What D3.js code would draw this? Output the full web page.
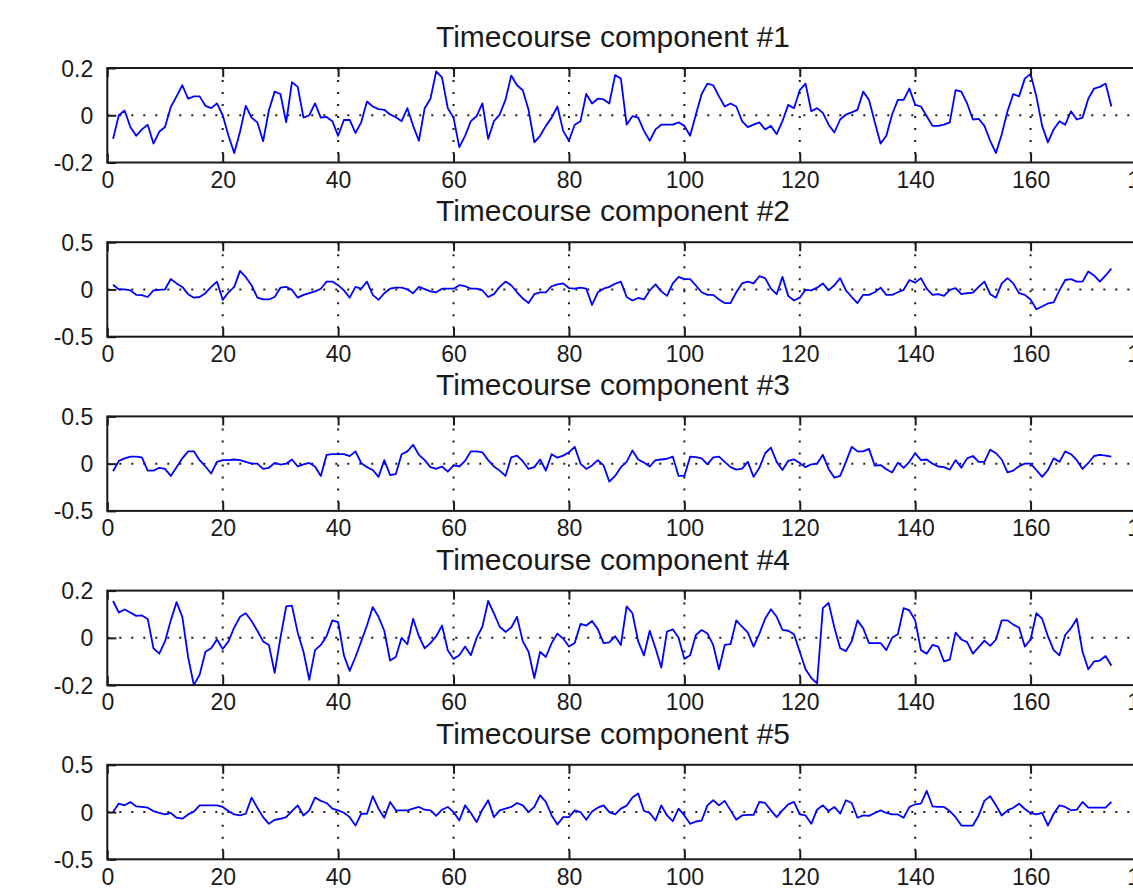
<!DOCTYPE html>
<html>
<head>
<meta charset="utf-8">
<script src="https://cdn.jsdelivr.net/npm/d3@7"></script>
<style>
  body { margin: 0; background: #fff; }
  svg { display: block; }
</style>
</head>
<body>
<svg id="chart" width="1133" height="890"></svg>
<script>
// timecourses, one value per sample (sample 1..174)
const comp1 = [
  -0.10, 0.0, 0.02, -0.05, -0.087, -0.06, -0.04, -0.12, -0.07, -0.05,
  0.035, 0.08, 0.127, 0.07, 0.08, 0.08, 0.04, 0.03, 0.05, 0.0,
  -0.087, -0.16, -0.07, 0.04, -0.01, -0.03, -0.11, 0.02, 0.10, 0.09,
  -0.03, 0.14, 0.12, -0.01, 0.0, 0.05, -0.01, -0.007, -0.025, -0.087,
  -0.02, -0.02, -0.075, -0.03, 0.058, 0.037, 0.026, 0.023, 0.003, -0.008,
  -0.025, 0.03, -0.045, -0.108, 0.03, 0.07, 0.186, 0.16, 0.03, -0.01,
  -0.135, -0.087, -0.025, -0.004, 0.05, -0.10, -0.025, 0.003, 0.065, 0.168,
  0.127, 0.106, 0.023, -0.115, -0.087, -0.045, -0.01, 0.037, -0.066, -0.108,
  -0.04, -0.025, 0.09, 0.05, 0.07, 0.067, 0.05, 0.17, 0.155, -0.04,
  -0.004, -0.01, -0.066, -0.108, -0.06, -0.04, -0.04, -0.04, -0.03, -0.045,
  -0.087, 0.003, 0.09, 0.134, 0.127, 0.08, 0.037, 0.05, 0.037, -0.025,
  -0.05, -0.04, -0.03, -0.06, -0.045, -0.08, -0.025, 0.044, 0.03, 0.106,
  0.134, 0.017, 0.03, 0.01, -0.04, -0.073, -0.018, 0.003, 0.012, 0.023,
  0.1, 0.065, -0.03, -0.12, -0.087, 0.003, 0.065, 0.065, 0.113, 0.044,
  0.037, -0.004, -0.045, -0.045, -0.04, -0.03, 0.106, 0.1, 0.05, -0.018,
  -0.015, -0.045, -0.108, -0.16, -0.08, 0.017, 0.09, 0.08, 0.155, 0.175,
  0.08, -0.045, -0.115, -0.06, -0.025, -0.04, 0.017, -0.018, -0.01, 0.07,
  0.113, 0.12, 0.134, 0.037
]
const comp2 = [
  0.05, 0, 0, -0.01, -0.057, -0.06, -0.08, -0.01, -0.004, 0,
  0.11, 0.064, 0.027, -0.05, -0.087, -0.08, -0.04, 0.027, 0.083, -0.11,
  -0.03, 0.027, 0.197, 0.13, 0.045, -0.087, -0.106, -0.106, -0.08, 0.019,
  0.027, -0.004, -0.087, -0.057, -0.04, -0.02, 0.008, 0.083, 0.083, 0.045,
  -0.01, -0.087, 0.027, 0.008, 0.083, -0.057, -0.11, -0.04, 0.008, 0.019,
  0.019, 0, -0.04, 0.027, 0.004, -0.02, -0.03, 0.008, 0.008, 0.008,
  0.045, 0.034, 0.008, 0.008, -0.01, -0.08, -0.05, 0.027, 0.083, 0.045,
  -0.03, -0.095, -0.144, -0.05, -0.03, -0.03, 0.034, 0.053, 0.064, 0.015,
  0.008, 0.019, 0.008, -0.163, -0.03, 0.008, 0.027, 0.06, 0.083, -0.08,
  -0.117, -0.09, -0.106, -0.01, 0.053, -0.02, -0.068, 0.064, 0.133, 0.11,
  0.11, 0.042, -0.03, -0.057, -0.057, -0.106, -0.144, -0.144, -0.03, 0.064,
  0.083, 0.064, 0.14, 0.12, 0.008, -0.05, 0.133, -0.068, -0.117, -0.087,
  -0.004, -0.01, 0.019, 0.064, -0.01, 0.045, 0.12, -0.01, -0.08, -0.144,
  -0.057, -0.057, -0.03, 0.019, -0.057, -0.057, -0.03, -0.004, 0.1, 0.072,
  0.12, 0.008, -0.057, -0.05, -0.068, -0.004, 0.015, -0.05, -0.04, -0.034,
  0.027, 0.083, -0.05, -0.087, 0.064, 0.12, 0.064, -0.04, -0.057, -0.106,
  -0.21, -0.18, -0.148, -0.136, -0.01, 0.1, 0.11, 0.083, 0.083, 0.19,
  0.148, 0.083, 0.148, 0.22
]
const comp3 = [
  -0.08, 0.03, 0.056, 0.074, 0.074, 0.067, -0.074, -0.074, -0.044, -0.056,
  -0.13, -0.037, 0.056, 0.13, 0.13, 0.037, -0.03, -0.104, 0.019, 0.037,
  0.037, 0.044, 0.037, 0.019, 0, 0, -0.056, -0.044, 0.007, -0.01,
  0, 0.044, -0.03, -0.007, 0.007, -0.03, -0.13, 0.093, 0.1, 0.1,
  0.1, 0.08, 0.13, 0.007, -0.037, -0.067, -0.14, 0.037, -0.12, -0.11,
  0.1, 0.13, 0.2, 0.093, 0.037, -0.037, -0.056, -0.03, -0.085, -0.019,
  -0.03, 0.03, 0.13, 0.13, 0.12, 0.037, -0.03, -0.074, -0.13, 0.067,
  0.085, 0.026, -0.056, -0.037, 0.044, -0.074, 0.1, 0.063, 0.085, 0.12,
  0.178, 0, -0.056, -0.019, 0.037, -0.019, -0.19, -0.13, -0.037, 0.019,
  0.14, 0.044, 0.011, -0.03, 0.037, 0.044, 0.052, 0.074, -0.13, -0.13,
  0.074, 0.07, 0.056, -0.007, 0.067, 0.074, 0.019, -0.037, -0.063, -0.052,
  0.019, -0.14, -0.044, 0.11, 0.17, 0.019, -0.067, 0.03, 0.044, 0.007,
  -0.037, -0.007, 0, 0.093, -0.056, -0.148, -0.13, 0.019, 0.178, 0.13,
  0.13, 0.156, -0.022, -0.015, -0.06, -0.093, 0.011, -0.044, 0.019, 0.11,
  0.037, 0.044, 0, -0.03, -0.037, -0.063, 0.037, -0.044, 0.056, 0.081,
  0.019, 0.019, 0.148, 0.11, 0.044, -0.093, -0.074, -0.026, 0, 0,
  -0.067, -0.14, -0.067, 0.056, 0.019, 0.13, 0.1, 0.037, -0.056, 0.007,
  0.081, 0.093, 0.085, 0.074
]
const comp4 = [
  0.156, 0.107, 0.12, 0.107, 0.093, 0.095, 0.08, -0.044, -0.067, -0.015,
  0.074, 0.151, 0.089, -0.081, -0.2, -0.156, -0.059, -0.044, -0.007, -0.047,
  -0.015, 0.044, 0.089, 0.104, 0.071, 0.03, -0.015, -0.03, -0.148, 0,
  0.133, 0.136, 0.022, -0.059, -0.178, -0.052, -0.03, 0.007, 0.074, 0.067,
  -0.074, -0.14, -0.081, -0.015, 0.052, 0.13, 0.089, 0.03, -0.096, -0.081,
  0, -0.027, 0.081, 0.007, -0.044, -0.022, 0.007, 0.052, -0.052, -0.089,
  -0.074, -0.037, -0.074, 0, 0.047, 0.156, 0.104, 0.047, 0.025, 0.044,
  0.089, -0.015, -0.059, -0.17, -0.059, -0.081, -0.022, 0.018, -0.003, -0.037,
  -0.022, 0.059, 0.052, 0.071, 0.037, -0.022, -0.019, 0.007, -0.03, 0.133,
  0.104, -0.015, -0.074, 0.03, -0.044, -0.126, 0.027, 0.036, 0, -0.089,
  -0.074, 0.012, 0.033, 0.018, -0.03, -0.133, -0.03, -0.027, 0.074, 0.047,
  0.022, -0.037, 0.018, 0.081, 0.121, 0.089, 0.034, 0.03, 0.015, -0.059,
  -0.133, -0.17, -0.193, 0.126, 0.148, 0.044, -0.044, -0.056, -0.015, 0.074,
  0.04, -0.022, -0.022, -0.022, -0.052, 0, 0.015, 0.126, 0.116, 0.074,
  -0.052, -0.067, -0.03, -0.037, -0.1, -0.092, 0.022, -0.007, -0.018, -0.067,
  -0.039, -0.012, -0.034, -0.007, 0.074, 0.074, 0.056, 0.044, -0.037, -0.007,
  0.104, 0.081, 0.007, -0.052, -0.074, 0.012, 0.041, 0.081, -0.059, -0.133,
  -0.1, -0.096, -0.077, -0.118
]
const comp5 = [
  0, 0.09, 0.071, 0.107, 0.06, 0.054, 0.046, 0.01, -0.01, -0.025,
  -0.01, -0.06, -0.07, -0.025, 0.004, 0.071, 0.071, 0.071, 0.071, 0.054,
  0.01, -0.025, -0.036, -0.018, 0.153, 0.046, -0.054, -0.125, -0.082, -0.071,
  -0.054, 0.01, 0.071, -0.036, 0.018, 0.153, 0.118, 0.096, 0.036, 0.018,
  -0.007, -0.054, -0.143, -0.018, -0.018, 0.168, 0.036, -0.06, 0.107, 0.018,
  0.018, 0.018, 0.036, 0.054, 0.025, 0.018, -0.04, 0.025, 0.054, 0,
  -0.09, 0.071, -0.01, -0.107, 0.025, 0.125, -0.054, 0.018, 0.036, 0.054,
  0.096, 0.071, 0, 0.054, 0.178, 0.107, -0.036, -0.132, -0.054, -0.054,
  0.018, 0, -0.082, 0.007, 0.046, 0.071, 0, -0.025, 0.036, 0.068,
  0.154, 0.196, 0.011, -0.01, -0.09, 0.071, -0.036, -0.096, 0.036, -0.036,
  -0.125, -0.1, -0.09, 0.071, 0.125, 0.071, 0.118, 0.018, -0.082, -0.036,
  -0.029, -0.029, 0.107, 0.096, 0.018, -0.054, 0.018, 0.082, 0.107, -0.025,
  -0.036, -0.125, 0.025, 0.071, 0.011, 0.054, -0.018, 0.125, 0.096, -0.06,
  -0.036, -0.04, -0.01, 0.018, -0.01, -0.025, -0.025, -0.06, 0.054, 0.082,
  0.089, 0.225, 0.061, 0.054, 0.054, 0.011, -0.054, -0.143, -0.143, -0.143,
  -0.036, 0.118, 0.168, 0.071, -0.036, 0.018, 0.046, 0.089, 0.032, -0.01,
  -0.025, -0.01, -0.143, -0.018, 0.071, 0.054, 0.018, 0.025, 0.107, 0.046,
  0.046, 0.046, 0.046, 0.107
]

const titles = [
  'Timecourse component #1',
  'Timecourse component #2',
  'Timecourse component #3',
  'Timecourse component #4',
  'Timecourse component #5'
]
const series = [comp1, comp2, comp3, comp4, comp5]
const yLimits = [0.2, 0.5, 0.5, 0.2, 0.5]
const xTicks = [0, 20, 40, 60, 80, 100, 120, 140, 160, 180]

const left = 107.3
const right = 1146
const firstTop = 68
const step = 174.2
const panelHeight = 94.5
const titleX = 613
const font = '"Liberation Sans", Arial, sans-serif'
const ink = '#1a1a1a'

const svg = d3.select('#chart')
svg.append('rect').attr('width', 1133).attr('height', 890).attr('fill', '#fff')

const x = d3.scaleLinear().domain([0, 180]).range([left, right])

series.forEach(function (values, i) {
  const top = firstTop + i * step
  const lim = yLimits[i]
  const y = d3.scaleLinear().domain([-lim, lim]).range([top + panelHeight, top])
  const g = svg.append('g').attr('class', 'panel')

  // dotted grid
  g.append('g')
    .selectAll('line')
    .data(xTicks.slice(1, -1))
    .join('line')
    .attr('x1', (d) => x(d)).attr('x2', (d) => x(d))
    .attr('y1', top).attr('y2', top + panelHeight)
    .attr('stroke', ink)
    .attr('stroke-width', 2)
    .attr('stroke-dasharray', '2 10')
  g.append('line')
    .attr('x1', left).attr('x2', right)
    .attr('y1', y(0)).attr('y2', y(0))
    .attr('stroke', ink)
    .attr('stroke-width', 2)
    .attr('stroke-dasharray', '2 10')

  // the trace
  const line = d3.line()
    .x((d, k) => x(k + 1))
    .y((d) => y(d))
  g.append('path')
    .datum(values)
    .attr('d', line)
    .attr('fill', 'none')
    .attr('stroke', '#0000ff')
    .attr('stroke-width', 1.8)
    .attr('stroke-linejoin', 'round')

  const fmt = (d) => (d === 0 ? '0' : String(d))

  // axes with inward ticks, like matlab
  const bottom = g.append('g')
    .attr('transform', `translate(0,${top + panelHeight})`)
    .call(d3.axisBottom(x).tickValues(xTicks).tickSize(-9).tickPadding(9).tickFormat(fmt))
  g.append('g')
    .attr('transform', `translate(0,${top})`)
    .call(d3.axisTop(x).tickValues(xTicks).tickSize(-9).tickFormat(''))
  const leftAxis = g.append('g')
    .attr('transform', `translate(${left},0)`)
    .call(d3.axisLeft(y).tickValues([-lim, 0, lim]).tickSize(-9).tickPadding(14).tickFormat(fmt))

  g.selectAll('.domain').remove()
  g.selectAll('.tick line').attr('stroke', ink).attr('stroke-width', 2)
  g.selectAll('.tick text')
    .attr('fill', ink)
    .style('font-family', font)
    .style('font-size', '23px')
  bottom.selectAll('.tick text').attr('dy', '0.71em')
  leftAxis.selectAll('.tick text').attr('dy', '0.35em')

  // box
  g.append('rect')
    .attr('x', left).attr('y', top)
    .attr('width', right - left).attr('height', panelHeight)
    .attr('fill', 'none')
    .attr('stroke', ink)
    .attr('stroke-width', 2)

  g.append('text')
    .attr('x', titleX)
    .attr('y', top - 21)
    .attr('text-anchor', 'middle')
    .attr('fill', ink)
    .style('font-family', font)
    .style('font-size', '30px')
    .text(titles[i])
})
</script>
</body>
</html>
